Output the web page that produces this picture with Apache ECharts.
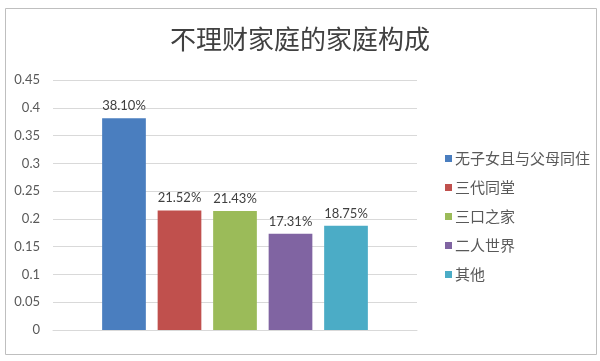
<!DOCTYPE html>
<html><head><meta charset="utf-8">
<script src="https://cdn.jsdelivr.net/npm/echarts@6/dist/echarts.min.js"></script>
<style>html,body{margin:0;padding:0;background:#fff}#c{width:600px;height:361px}</style>
</head><body><div id="c"></div>
<script>
const title = '不理财家庭的家庭构成';
const seriesNames = ['无子女且与父母同住','三代同堂','三口之家','二人世界','其他'];
const values = [0.381, 0.2152, 0.2143, 0.1731, 0.1875];
const colors = ['#4a7ebf','#c0504d','#9bbb59','#8064a2','#4bacc6'];
const yTicks = {min:0, max:0.45, interval:0.05};
const FONT = "Lato, 'Noto Sans CJK SC', sans-serif";

const chart = echarts.init(document.getElementById('c'));
chart.setOption({
  animation:false,
  textStyle:{fontFamily:FONT},
  title:{text:title, left:'center', top:21, textStyle:{fontSize:26, fontWeight:'normal', color:'#404040', fontFamily:"'Noto Sans CJK SC', sans-serif"}},
  graphic:[{type:'rect', shape:{x:5.5,y:8.5,width:591,height:346}, style:{fill:'none', stroke:'#bfbfbf', lineWidth:1}, silent:true}],
  grid:{left:53, right:183, top:80, bottom:31},
  legend:{orient:'vertical', left:440, top:146, itemWidth:7, itemHeight:7, itemGap:14, icon:'rect',
    textStyle:{fontSize:15, color:'#595959', fontFamily:"'Noto Sans CJK SC', sans-serif", padding:[0,0,0,-2]},
    data:seriesNames},
  xAxis:{type:'category', data:[''], axisLine:{lineStyle:{color:'#d9d9d9'}}, axisTick:{show:false}, axisLabel:{show:false}},
  yAxis:{type:'value', min:yTicks.min, max:yTicks.max, interval:yTicks.interval,
    axisLine:{show:false}, axisTick:{show:false},
    splitLine:{lineStyle:{color:'#d9d9d9'}},
    axisLabel:{fontSize:13, color:'#595959', margin:13, formatter:v=>String(+v.toFixed(2))}},
  series: seriesNames.map((n,i)=>({
    name:n, type:'bar', data:[values[i]], barGap:'27%', barCategoryGap:'27%',
    itemStyle:{color:colors[i]},
    label:{show:true, position:'top', distance:6, fontSize:13, color:'#404040', formatter:p=>(p.value*100).toFixed(2)+'%'}
  }))
});
</script></body></html>
